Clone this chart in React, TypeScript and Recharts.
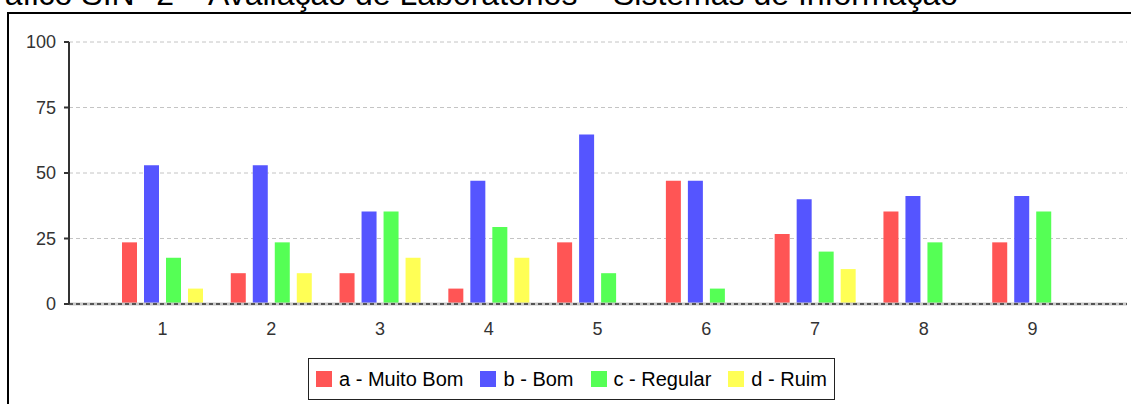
import React from 'react';
import { BarChart, Bar, XAxis, YAxis, CartesianGrid, ReferenceLine } from 'recharts';

const title = 'Gráfico SIN° 2 – Avaliação de Laboratórios – Sistemas de Informação';
const categories = ['1', '2', '3', '4', '5', '6', '7', '8', '9'];
const muitoBom = [23.53, 11.76, 11.76, 5.88, 23.53, 47.06, 26.67, 35.29, 23.53];
const bom = [52.94, 52.94, 35.29, 47.06, 64.71, 47.06, 40.0, 41.18, 41.18];
const regular = [17.65, 23.53, 35.29, 29.41, 11.76, 5.88, 20.0, 23.53, 35.29];
const ruim = [5.88, 11.76, 17.65, 17.65, 0, 0, 13.33, 0, 0];
const yTicks = [0, 25, 50, 75, 100];

const series = [
  { key: 'a', name: 'a - Muito Bom', color: '#FF5555', values: muitoBom },
  { key: 'b', name: 'b - Bom', color: '#5555FF', values: bom },
  { key: 'c', name: 'c - Regular', color: '#55FF55', values: regular },
  { key: 'd', name: 'd - Ruim', color: '#FFFF55', values: ruim },
];

const data = categories.map((cat, i) => {
  const row: Record<string, string | number> = { cat };
  series.forEach((s) => {
    row[s.key] = s.values[i];
  });
  return row;
});

const FONT = '"Liberation Sans", Arial, Helvetica, sans-serif';

export default function App() {
  return (
    <div
      style={{
        position: 'absolute',
        left: 0,
        top: 0,
        width: 1131,
        height: 404,
        overflow: 'hidden',
        background: '#fff',
        fontFamily: FONT,
      }}
    >
      <div
        style={{
          position: 'absolute',
          left: 958,
          top: -22,
          transform: 'translateX(-100%)',
          whiteSpace: 'nowrap',
          fontSize: 32,
          lineHeight: '32px',
          color: '#000',
        }}
      >
        {title}
      </div>
      <div
        style={{
          position: 'absolute',
          left: 7,
          top: 12,
          width: 1130,
          height: 420,
          borderTop: '2px solid #000',
          borderLeft: '2px solid #000',
          boxSizing: 'border-box',
        }}
      />
      <div style={{ position: 'absolute', left: 0, top: 0 }}>
        <BarChart
          width={1131}
          height={404}
          data={data}
          margin={{ top: 42, right: 4, left: 0, bottom: 0 }}
          barSize={15}
          barGap={7}
        >
          <CartesianGrid vertical={false} stroke="#c4c4c4" strokeDasharray="4 3" />
          <ReferenceLine y={0} stroke="#c8c8c8" strokeWidth={3} />
          <XAxis
            dataKey="cat"
            height={100}
            padding={{ left: 39, right: 40 }}
            tickLine={false}
            axisLine={{ stroke: '#555', strokeWidth: 2, strokeDasharray: '4 3' }}
            tickSize={6}
            tickMargin={12}
            tick={{ fill: '#333', fontSize: 18, fontFamily: FONT }}
            interval={0}
          />
          <YAxis
            width={69}
            domain={[0, 100]}
            ticks={yTicks}
            interval={0}
            tickSize={5}
            tickMargin={8}
            axisLine={{ stroke: '#333', strokeWidth: 2 }}
            tickLine={{ stroke: '#333', strokeWidth: 2 }}
            tick={{ fill: '#333', fontSize: 18, fontFamily: FONT }}
          />
          {series.map((s) => (
            <Bar key={s.key} dataKey={s.key} name={s.name} fill={s.color} isAnimationActive={false} />
          ))}
        </BarChart>
      </div>
      <div
        style={{
          position: 'absolute',
          left: 308,
          top: 358,
          height: 42,
          boxSizing: 'border-box',
          border: '1.5px solid #222',
          display: 'flex',
          alignItems: 'center',
          padding: '0 7px',
          fontSize: 20,
          color: '#000',
          whiteSpace: 'nowrap',
        }}
      >
        {series.map((s, i) => (
          <div
            key={s.key}
            style={{ display: 'flex', alignItems: 'center', marginLeft: i === 0 ? 0 : 17 }}
          >
            <span style={{ display: 'inline-block', width: 16, height: 16, background: s.color, marginRight: 7 }} />
            <span>{s.name}</span>
          </div>
        ))}
      </div>
    </div>
  );
}
